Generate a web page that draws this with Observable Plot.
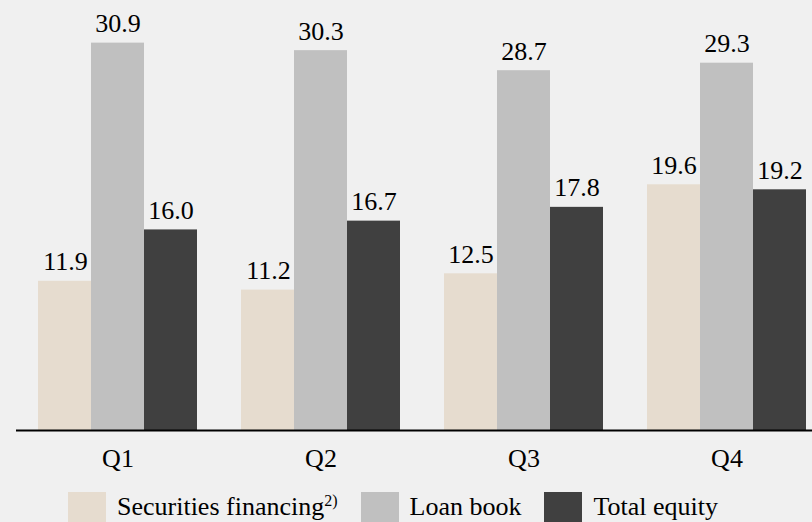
<!DOCTYPE html>
<html>
<head>
<meta charset="utf-8">
<script src="https://cdn.jsdelivr.net/npm/d3@7"></script>
<script src="https://cdn.jsdelivr.net/npm/@observablehq/plot@0.6"></script>
<style>
  html, body { margin: 0; padding: 0; background: #f0f0f0; }
  body { width: 812px; height: 522px; overflow: hidden; }
  #legend { display: flex; align-items: flex-start; margin-top: 12px; padding-left: 68px; font-size: 26px; line-height: 30px; color: #000; white-space: nowrap; }
  .item { display: flex; align-items: flex-start; margin-right: 23px; }
  .sw { width: 38px; height: 30px; margin-right: 11px; flex: none; }
  sup { font-size: 16px; vertical-align: 9px; line-height: 0; }
</style>
</head>
<body>
<div id="chart"></div>
<div id="legend"></div>
<script>
const quarters = ["Q1", "Q2", "Q3", "Q4"];
const series = ["Securities financing", "Loan book", "Total equity"];
const securitiesFinancing = [11.9, 11.2, 12.5, 19.6];
const loanBook = [30.9, 30.3, 28.7, 29.3];
const totalEquity = [16.0, 16.7, 17.8, 19.2];
const colors = ["#e6dccf", "#c0c0c0", "#404040"];
const legendLabels = ["Securities financing", "Loan book", "Total equity"];
const legendSup = ["2)", "", ""];

const FONT = "'Liberation Serif', 'Times New Roman', serif";
const setFont = el => el.style.setProperty("font-family", FONT, "important");
setFont(document.body);

const valuesBySeries = [securitiesFinancing, loanBook, totalEquity];
const data = [];
quarters.forEach((q, i) => {
  series.forEach((s, j) => {
    data.push({quarter: q, series: s, value: valuesBySeries[j][i]});
  });
});

const plot = Plot.plot({
  width: 812,
  height: 480,
  marginTop: 0,
  marginBottom: 50,
  marginLeft: 15,
  marginRight: 0,
  style: {background: "#f0f0f0", fontSize: "26px", color: "#000"},
  fx: {domain: quarters, range: [15.15, 829.35], padding: 0, label: null, tickSize: 0, tickPadding: 18},
  x: {domain: series, axis: null, paddingInner: 0, paddingOuter: 0.41},
  y: {domain: [0, 34.3], axis: null},
  color: {domain: series, range: colors},
  marks: [
    Plot.barY(data, {fx: "quarter", x: "series", y: "value", fill: "series", inset: 0}),
    Plot.text(data, {fx: "quarter", x: "series", y: "value", text: d => d.value.toFixed(1), textAnchor: "end", lineAnchor: "bottom", dx: 22.7, dy: -11, fill: "#000", fontSize: 26}),
    Plot.ruleY([0], {stroke: "#000", strokeWidth: 2})
  ]
});
setFont(plot);
plot.querySelectorAll("text, g").forEach(setFont);
document.getElementById("chart").appendChild(plot);

const legend = document.getElementById("legend");
setFont(legend);
legendLabels.forEach((lab, i) => {
  const item = document.createElement("div");
  item.className = "item";
  const sw = document.createElement("div");
  sw.className = "sw";
  sw.style.background = colors[i];
  const t = document.createElement("span");
  setFont(t);
  t.textContent = lab;
  if (legendSup[i]) {
    const s = document.createElement("sup");
    s.textContent = legendSup[i];
    setFont(s);
    t.appendChild(s);
  }
  item.appendChild(sw);
  item.appendChild(t);
  legend.appendChild(item);
});
</script>
</body>
</html>
